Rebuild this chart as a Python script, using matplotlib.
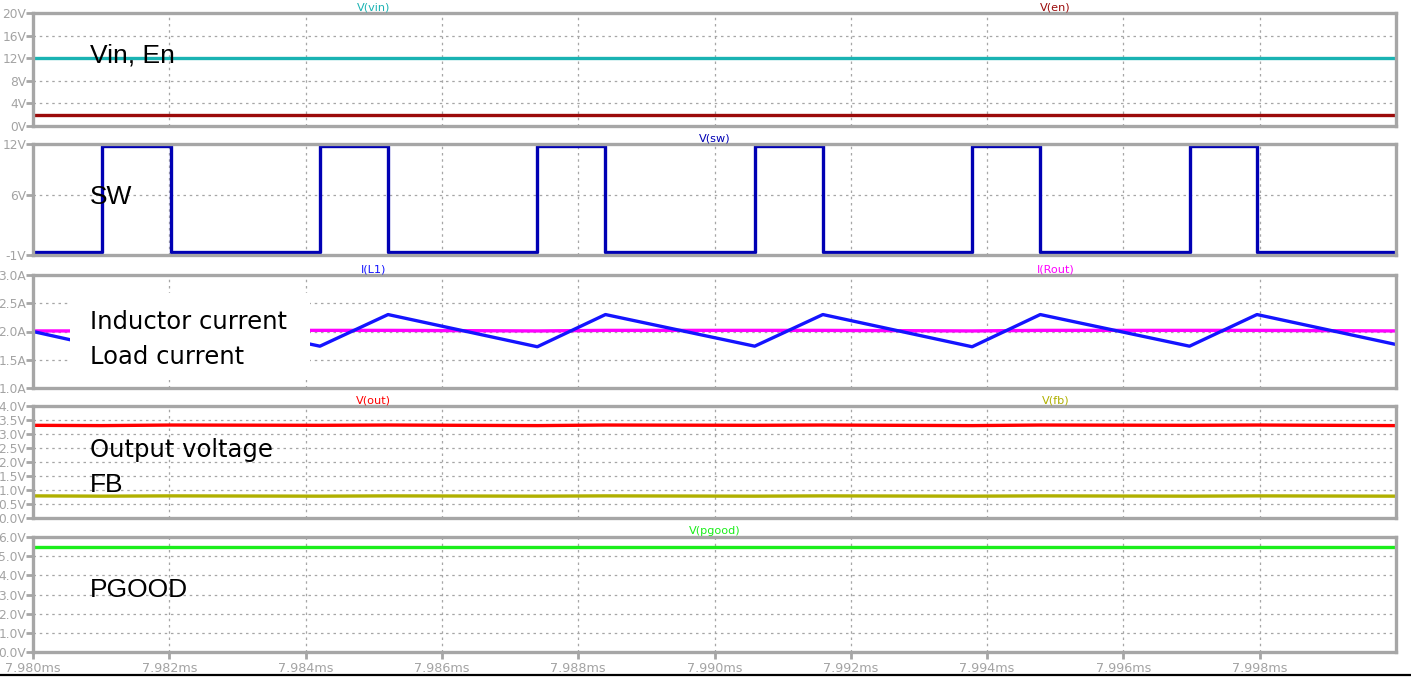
import matplotlib
matplotlib.use('Agg')

import matplotlib.pyplot as plt
from matplotlib.patches import Rectangle
from matplotlib.lines import Line2D

# =====================
# DATOS (tiempo en ms)
# =====================

x_ticks = [7.980, 7.982, 7.984, 7.986, 7.988, 7.990, 7.992, 7.994, 7.996, 7.998]
t_span = [7.980, 8.000]

vin_v = [12.0, 12.0]
en_v = [2.0, 2.0]

sw_rise = [7.98101, 7.98421, 7.98740, 7.99059, 7.99378, 7.99697]
sw_fall = [7.98202, 7.98521, 7.98840, 7.99159, 7.99478, 7.99796]
sw_high = 11.8
sw_low = -0.65

il_t = [7.98000, 7.98101, 7.98202, 7.98421, 7.98521, 7.98740, 7.98840,
        7.99059, 7.99159, 7.99378, 7.99478, 7.99697, 7.99796, 8.00000]
il_v = [2.00, 1.73, 2.30, 1.74, 2.30, 1.73, 2.30,
        1.74, 2.30, 1.73, 2.30, 1.74, 2.30, 1.77]
rout_v = [2.01, 2.01, 2.02, 2.02, 2.02, 2.01, 2.02,
          2.02, 2.02, 2.01, 2.02, 2.02, 2.02, 2.01]

vout_v = [3.31, 3.30, 3.32, 3.31, 3.32, 3.30, 3.32,
          3.31, 3.32, 3.30, 3.32, 3.31, 3.32, 3.30]
vfb_v = [0.79, 0.78, 0.79, 0.78, 0.79, 0.78, 0.79,
         0.78, 0.79, 0.78, 0.79, 0.78, 0.79, 0.78]

pgood_v = [5.5, 5.5]

# =====================
# ESTILO
# =====================

W, H = 1411, 677
LEFT, RIGHT = 33, 1396
GRAY = '#a6a6a6'
TICK_GRAY = '#a3a3a3'
LW = 2.4

C_VIN = '#1ab3b3'
C_EN = '#9b0a0a'
C_SW = '#0000b4'
C_IL = '#1414ff'
C_ROUT = '#ff00ff'
C_VOUT = '#ff0000'
C_FB = '#b0b000'
C_PG = '#1aee1a'

fig = plt.figure(figsize=(W / 100, H / 100), dpi=100)
fig.patch.set_facecolor('white')


def panel(top, bottom, ylim, yticks, ylabels, bottom_axis=False):
    ax = fig.add_axes([LEFT / W, 1 - bottom / H, (RIGHT - LEFT) / W, (bottom - top) / H])
    ax.set_xlim(t_span[0], t_span[1])
    ax.set_ylim(*ylim)
    ax.set_yticks(yticks)
    ax.set_yticklabels(ylabels)
    ax.set_xticks(x_ticks)
    ax.set_xticklabels([f"{v:.3f}ms" for v in x_ticks])
    for s in ax.spines.values():
        s.set_color(GRAY)
        s.set_linewidth(2.4)
    ax.tick_params(axis='y', direction='out', length=5, width=2, color=GRAY,
                   labelcolor=TICK_GRAY, labelsize=8.8, pad=0)
    if bottom_axis:
        ax.tick_params(axis='x', direction='out', length=5, width=2, color=GRAY,
                       labelcolor=TICK_GRAY, labelsize=9.2, pad=2)
    else:
        ax.tick_params(axis='x', length=0, labelbottom=False)
    ax.grid(True, color=GRAY, linestyle=(0, (2, 3)), linewidth=0.9)
    ax.set_axisbelow(True)
    return ax


def header(ax, frac, name, color):
    ax.annotate(name, xy=(frac, 1), xycoords='axes fraction', xytext=(0, 0.6),
                textcoords='offset points', ha='center', va='bottom',
                fontsize=8.1, color=color)


# --- Vin, En ---
ax1 = panel(13, 126, (0, 20), [0, 4, 8, 12, 16, 20],
            ['0V', '4V', '8V', '12V', '16V', '20V'])
ax1.plot(t_span, vin_v, color=C_VIN, lw=LW)
ax1.plot(t_span, en_v, color=C_EN, lw=LW)
header(ax1, 0.25, 'V(vin)', C_VIN)
header(ax1, 0.75, 'V(en)', C_EN)

# --- SW ---
sw_t = [t_span[0]]
sw_v = [sw_low]
for r, f in zip(sw_rise, sw_fall):
    sw_t += [r, r, f, f]
    sw_v += [sw_low, sw_high, sw_high, sw_low]
sw_t.append(t_span[1])
sw_v.append(sw_low)

ax2 = panel(144, 255, (-1, 12), [-1, 6, 12], ['-1V', '6V', '12V'])
ax2.plot(sw_t, sw_v, color=C_SW, lw=LW)
header(ax2, 0.5, 'V(sw)', C_SW)

# --- Corriente ---
ax3 = panel(275, 388, (1.0, 3.0), [1.0, 1.5, 2.0, 2.5, 3.0],
            ['1.0A', '1.5A', '2.0A', '2.5A', '3.0A'])
ax3.plot(il_t, rout_v, color=C_ROUT, lw=LW)
ax3.plot(il_t, il_v, color=C_IL, lw=LW)
header(ax3, 0.25, 'I(L1)', C_IL)
header(ax3, 0.75, 'I(Rout)', C_ROUT)

# --- Vout, FB ---
ax4 = panel(406, 518, (0, 4.0), [0, 0.5, 1.0, 1.5, 2.0, 2.5, 3.0, 3.5, 4.0],
            ['0.0V', '0.5V', '1.0V', '1.5V', '2.0V', '2.5V', '3.0V', '3.5V', '4.0V'])
ax4.plot(il_t, vout_v, color=C_VOUT, lw=LW)
ax4.plot(il_t, vfb_v, color=C_FB, lw=LW)
header(ax4, 0.25, 'V(out)', C_VOUT)
header(ax4, 0.75, 'V(fb)', C_FB)

# --- PGOOD ---
ax5 = panel(537, 652, (0, 6.0), [0, 1, 2, 3, 4, 5, 6],
            ['0.0V', '1.0V', '2.0V', '3.0V', '4.0V', '5.0V', '6.0V'], bottom_axis=True)
ax5.plot(t_span, pgood_v, color=C_PG, lw=LW)
header(ax5, 0.5, 'V(pgood)', C_PG)

# =====================
# ETIQUETAS
# =====================

def fx(x):
    return x / W


def fy(y):
    return 1 - y / H


# caja blanca detrás de las etiquetas de corriente
fig.patches.append(Rectangle((fx(70), fy(380)), (310 - 70) / W, (380 - 293) / H,
                             transform=fig.transFigure, facecolor='white',
                             edgecolor='none', zorder=1))

big = dict(fontsize=19, family=['Liberation Sans', 'DejaVu Sans'], va='center', ha='left', zorder=5)
mid = dict(fontsize=17.5, family=['DejaVu Sans'], va='center', ha='left', zorder=5)

fig.text(fx(90), fy(55), 'Vin, En', **big)
fig.text(fx(90), fy(197), 'SW', **big)
fig.text(fx(90), fy(322), 'Inductor current', **mid)
fig.text(fx(90), fy(357), 'Load current', **mid)
fig.text(fx(90), fy(450), 'Output voltage', **mid)
fig.text(fx(90), fy(485), 'FB', **big)
fig.text(fx(90), fy(590), 'PGOOD', **big)

# línea negra inferior
fig.add_artist(Line2D([0, 1], [fy(675), fy(675)], transform=fig.transFigure,
                      color='black', lw=1.6))

fig.savefig('out.png', dpi=100)
